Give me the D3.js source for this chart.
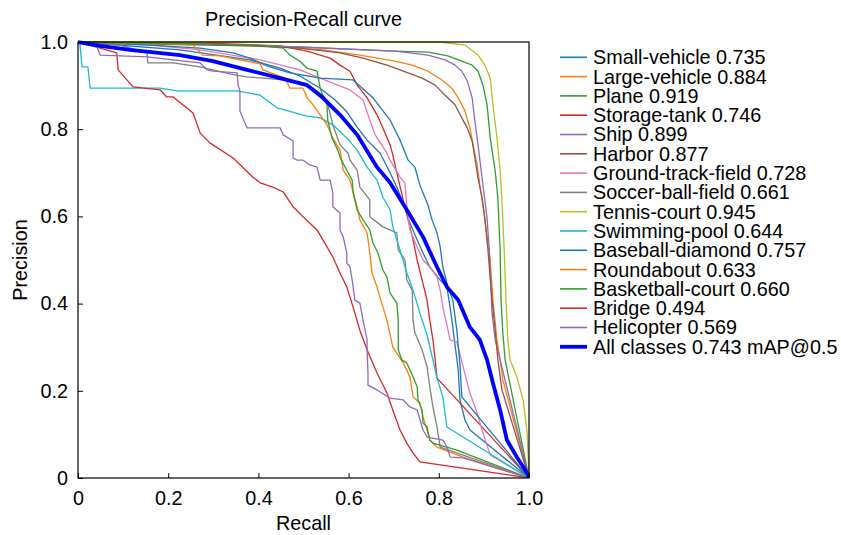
<!DOCTYPE html>
<html>
<head>
<meta charset="utf-8">
<script src="https://cdn.jsdelivr.net/npm/d3@7"></script>
<style>
  body { margin: 0; background: #fff; }
  text { font-family: "Liberation Sans", Arial, sans-serif; fill: #000; }
</style>
</head>
<body>
<div id="wrapper"></div>
<script>
// [recall, precision] pairs
const smallVehicle = [[0,1],[.226,.982],[.381,.959],[.448,.940],[.492,.922],[.537,.894],[.570,.867],[.596,.840],[.619,.805],[.641,.775],[.670,.745],[.692,.700],[.707,.667],[.721,.631],[.736,.585],[.752,.546],[.765,.516],[.780,.484],[.803,.454],[.818,.438],[.825,.392],[.831,.346],[.836,.305],[.843,.248],[.847,.179],[.858,.133],[.869,.110],[1,0]];
const largeVehicle = [[0,1],[.271,.995],[.448,.989],[.543,.982],[.625,.970],[.703,.956],[.741,.947],[.776,.933],[.807,.913],[.829,.894],[.843,.872],[.858,.842],[.869,.803],[.876,.764],[.885,.718],[.891,.672],[.898,.626],[.905,.569],[.914,.500],[.920,.408],[.929,.317],[.936,.271],[.942,.225],[1,0]];
const plane = [[0,1],[.271,.995],[.492,.989],[.703,.979],[.776,.977],[.820,.968],[.851,.956],[.874,.947],[.887,.933],[.898,.901],[.907,.856],[.914,.780],[.925,.704],[.931,.642],[.936,.523],[.938,.408],[.942,.333],[.947,.271],[1,0]];
const storageTank = [[0,1],[.271,.998],[.448,.991],[.508,.979],[.559,.963],[.581,.947],[.603,.933],[.619,.901],[.641,.872],[.663,.833],[.676,.803],[.692,.764],[.698,.741],[.707,.700],[.721,.638],[.732,.592],[.743,.546],[.752,.500],[.763,.454],[.774,.408],[.780,.362],[.787,.317],[.792,.271],[.796,.229],[1,0]];
const ship = [[0,1],[.381,.993],[.703,.979],[.776,.970],[.814,.959],[.836,.947],[.851,.933],[.863,.911],[.874,.872],[.880,.819],[.887,.764],[.896,.688],[.907,.596],[.912,.523],[.918,.378],[.925,.317],[.936,.271],[1,0]];
const harbor = [[0,1],[.160,.995],[.381,.991],[.492,.986],[.581,.975],[.632,.963],[.685,.947],[.714,.936],[.763,.917],[.792,.901],[.814,.878],[.836,.856],[.851,.826],[.863,.803],[.874,.773],[.880,.734],[.887,.688],[.896,.642],[.902,.596],[.909,.523],[.918,.408],[.925,.339],[.931,.271],[.940,.202],[1,0]];
const groundTrackField = [[0,1],[.160,.993],[.271,.982],[.404,.959],[.492,.936],[.559,.908],[.603,.890],[.632,.867],[.647,.821],[.659,.787],[.685,.745],[.692,.729],[.714,.690],[.725,.677],[.729,.622],[.736,.569],[.752,.530],[.765,.500],[.780,.484],[.796,.461],[.803,.431],[.809,.392],[.818,.351],[.825,.317],[.840,.312],[.854,.255],[.869,.195],[.885,.149],[.898,.103],[.914,.053],[1,0]];
const soccerBallField = [[0,1],[.093,.993],[.153,.975],[.155,.952],[.211,.952],[.271,.943],[.344,.925],[.375,.920],[.455,.913],[.492,.906],[.521,.894],[.543,.878],[.552,.865],[.565,.810],[.581,.764],[.599,.745],[.603,.729],[.619,.706],[.625,.667],[.647,.638],[.647,.599],[.676,.576],[.707,.562],[.710,.523],[.725,.500],[.729,.454],[.741,.431],[.743,.362],[.747,.333],[.763,.294],[.774,.255],[.780,.209],[.787,.163],[.796,.117],[.803,.071],[1,0]];
const tennisCourt = [[0,1],[.803,1],[.858,.993],[.887,.970],[.902,.947],[.914,.917],[.920,.856],[.929,.780],[.936,.704],[.940,.638],[.945,.523],[.949,.408],[.953,.317],[.958,.271],[.973,.232],[.987,.179],[.996,.103],[1,0]];
const swimmingPool = [[0,1],[.004,.998],[.009,.943],[.022,.943],[.027,.894],[.182,.894],[.220,.888],[.353,.888],[.404,.878],[.441,.849],[.508,.830],[.537,.826],[.565,.810],[.596,.780],[.619,.752],[.641,.713],[.663,.683],[.676,.644],[.692,.615],[.698,.576],[.714,.523],[.729,.470],[.743,.431],[.758,.378],[.774,.328],[.787,.271],[.796,.229],[.809,.186],[.818,.117],[1,0]];
const baseballDiamond = [[0,1],[.160,.993],[.271,.986],[.344,.975],[.381,.963],[.419,.945],[.470,.929],[.537,.917],[.610,.913],[.654,.872],[.692,.821],[.714,.775],[.732,.729],[.747,.713],[.758,.672],[.776,.626],[.785,.592],[.796,.562],[.803,.530],[.809,.484],[.818,.447],[.831,.408],[.840,.339],[.847,.259],[.851,.186],[1,0]];
const roundabout = [[0,1],[.226,.995],[.255,.993],[.277,.970],[.315,.968],[.404,.950],[.410,.936],[.459,.917],[.470,.894],[.499,.894],[.508,.872],[.521,.856],[.537,.833],[.552,.810],[.565,.780],[.581,.752],[.588,.706],[.603,.683],[.619,.622],[.625,.592],[.641,.562],[.647,.516],[.652,.470],[.663,.438],[.676,.392],[.685,.362],[.698,.300],[.721,.264],[.736,.232],[.743,.186],[.758,.172],[.765,.140],[.774,.110],[.780,.087],[.796,.071],[.854,.048],[1,0]];
const basketballCourt = [[0,1],[.271,.995],[.397,.993],[.455,.986],[.470,.970],[.492,.956],[.508,.940],[.530,.933],[.537,.894],[.543,.878],[.552,.856],[.554,.819],[.563,.780],[.576,.752],[.581,.736],[.596,.706],[.608,.683],[.610,.654],[.619,.615],[.632,.592],[.647,.569],[.654,.539],[.665,.516],[.676,.477],[.685,.461],[.692,.424],[.707,.401],[.710,.362],[.710,.294],[.718,.271],[.729,.264],[.743,.232],[.752,.209],[.754,.179],[.763,.156],[.765,.126],[.774,.117],[.780,.087],[.787,.080],[.840,.064],[1,0]];
const bridge = [[0,1],[.049,.986],[.086,.975],[.089,.936],[.122,.897],[.182,.890],[.197,.874],[.211,.874],[.255,.837],[.271,.791],[.293,.768],[.344,.734],[.388,.690],[.404,.677],[.432,.667],[.455,.656],[.477,.622],[.499,.599],[.530,.569],[.543,.546],[.565,.507],[.581,.470],[.596,.438],[.610,.392],[.625,.339],[.641,.294],[.663,.241],[.685,.195],[.698,.156],[.714,.110],[.729,.080],[.743,.057],[.758,.037],[1,0]];
const helicopter = [[0,1],[.004,.998],[.042,.989],[.049,.970],[.153,.966],[.271,.952],[.286,.936],[.299,.933],[.353,.929],[.355,.901],[.359,.888],[.359,.842],[.375,.803],[.448,.803],[.455,.787],[.477,.773],[.477,.734],[.486,.729],[.499,.729],[.514,.718],[.530,.713],[.537,.683],[.559,.683],[.565,.654],[.565,.622],[.581,.608],[.581,.569],[.588,.553],[.596,.516],[.596,.493],[.603,.484],[.608,.454],[.614,.408],[.625,.401],[.632,.362],[.641,.317],[.641,.294],[.643,.241],[.643,.213],[.663,.202],[.692,.183],[.721,.179],[.736,.163],[.752,.156],[.765,.110],[.774,.094],[.809,.087],[.818,.071],[.825,.048],[.854,.046],[1,0]];
const allClasses = [[0,1],[.049,.991],[.115,.982],[.226,.970],[.299,.956],[.375,.936],[.448,.917],[.508,.901],[.543,.872],[.581,.833],[.619,.787],[.641,.750],[.663,.713],[.692,.677],[.729,.615],[.765,.553],[.796,.484],[.818,.438],[.843,.408],[.869,.346],[.891,.317],[.907,.271],[.920,.218],[.936,.156],[.951,.087],[.973,.048],[.996,.011],[1,0]];

const classNames = ["Small-vehicle","Large-vehicle","Plane","Storage-tank","Ship","Harbor","Ground-track-field","Soccer-ball-field","Tennis-court","Swimming-pool","Baseball-diamond","Roundabout","Basketball-court","Bridge","Helicopter"];
const apValues = ["0.735","0.884","0.919","0.746","0.899","0.877","0.728","0.661","0.945","0.644","0.757","0.633","0.660","0.494","0.569"];
const classCurves = [smallVehicle, largeVehicle, plane, storageTank, ship, harbor, groundTrackField, soccerBallField, tennisCourt, swimmingPool, baseballDiamond, roundabout, basketballCourt, bridge, helicopter];
const classColors = ["#1f77b4","#ff7f0e","#2ca02c","#d62728","#9467bd","#8c564b","#e377c2","#7f7f7f","#bcbd22","#17becf","#1f77b4","#ff7f0e","#2ca02c","#d62728","#9467bd"];
const allLabel = "All classes 0.743 mAP@0.5";
const tickValues = [0, 0.2, 0.4, 0.6, 0.8, 1.0];
const tickLabels = ["0", "0.2", "0.4", "0.6", "0.8", "1.0"];

const fontSize = "19.8px";

const dimensions = {
  width: 841,
  height: 535,
  margin: { top: 42, right: 312, bottom: 57, left: 78 }
};
dimensions.boundedWidth = dimensions.width - dimensions.margin.left - dimensions.margin.right;
dimensions.boundedHeight = dimensions.height - dimensions.margin.top - dimensions.margin.bottom;

const wrapper = d3.select("#wrapper").append("svg")
  .attr("width", dimensions.width)
  .attr("height", dimensions.height);

const bounds = wrapper.append("g")
  .attr("transform", `translate(${dimensions.margin.left},${dimensions.margin.top})`);

const xScaler = d3.scaleLinear().domain([0, 1]).range([0, dimensions.boundedWidth]);
const yScaler = d3.scaleLinear().domain([0, 1]).range([dimensions.boundedHeight, 0]);

const fmt = d => tickLabels[tickValues.indexOf(d)];

const xAxisGen = d3.axisBottom(xScaler).tickValues(tickValues).tickFormat(fmt)
  .tickSizeInner(-5).tickSizeOuter(0).tickPadding(13);
const yAxisGen = d3.axisLeft(yScaler).tickValues(tickValues).tickFormat(fmt)
  .tickSizeInner(-5).tickSizeOuter(0).tickPadding(10);

const axisX = bounds.append("g")
  .attr("transform", `translate(0,${dimensions.boundedHeight})`)
  .call(xAxisGen);
const axisY = bounds.append("g").call(yAxisGen);
[axisX, axisY].forEach(a => {
  a.select(".domain").remove();
  a.selectAll("text").attr("font-size", fontSize).attr("font-family", "Liberation Sans, Arial, sans-serif").attr("fill", "#000");
  a.selectAll("line").attr("stroke", "#000");
});

bounds.append("clipPath").attr("id", "plotclip")
  .append("rect").attr("x", 0).attr("y", -2)
  .attr("width", dimensions.boundedWidth + 1).attr("height", dimensions.boundedHeight + 2);

const lineGen = d3.line()
  .x(d => xScaler(d[0]))
  .y(d => yScaler(d[1]));

const curveGroup = bounds.append("g").attr("clip-path", "url(#plotclip)");
curveGroup.selectAll("path.cls")
  .data(classCurves)
  .enter()
  .append("path")
  .attr("class", "cls")
  .attr("d", lineGen)
  .attr("fill", "none")
  .attr("stroke", (d, i) => classColors[i])
  .attr("stroke-width", 1.3)
  .attr("stroke-linejoin", "round");

curveGroup.append("path")
  .attr("d", lineGen(allClasses))
  .attr("fill", "none")
  .attr("stroke", "#0000ff")
  .attr("stroke-width", 3.8)
  .attr("stroke-linejoin", "round");

bounds.append("rect")
  .attr("width", dimensions.boundedWidth)
  .attr("height", dimensions.boundedHeight)
  .attr("fill", "none")
  .attr("stroke", "#000")
  .attr("stroke-width", 1.2);

wrapper.append("text")
  .attr("x", dimensions.margin.left + dimensions.boundedWidth / 2)
  .attr("y", 26)
  .attr("text-anchor", "middle")
  .attr("font-size", fontSize)
  .text("Precision-Recall curve");

wrapper.append("text")
  .attr("x", dimensions.margin.left + dimensions.boundedWidth / 2)
  .attr("y", 530)
  .attr("text-anchor", "middle")
  .attr("font-size", fontSize)
  .text("Recall");

wrapper.append("text")
  .attr("transform", `translate(27,${dimensions.margin.top + dimensions.boundedHeight / 2}) rotate(-90)`)
  .attr("text-anchor", "middle")
  .attr("font-size", fontSize)
  .text("Precision");

// legend
const legendItems = classNames.map((n, i) => ({ label: `${n} ${apValues[i]}`, color: classColors[i], width: 1.6 }))
  .concat([{ label: allLabel, color: "#0000ff", width: 3.8 }]);

const legend = wrapper.append("g").attr("transform", "translate(560,57.3)");
const rows = legend.selectAll("g").data(legendItems).enter().append("g")
  .attr("transform", (d, i) => `translate(0,${i * 19.3})`);
rows.append("line")
  .attr("x1", 0).attr("x2", 27).attr("y1", 0).attr("y2", 0)
  .attr("stroke", d => d.color)
  .attr("stroke-width", d => d.width);
rows.append("text")
  .attr("x", 33)
  .attr("dy", "0.35em")
  .attr("font-size", fontSize)
  .text(d => d.label);
</script>
</body>
</html>
